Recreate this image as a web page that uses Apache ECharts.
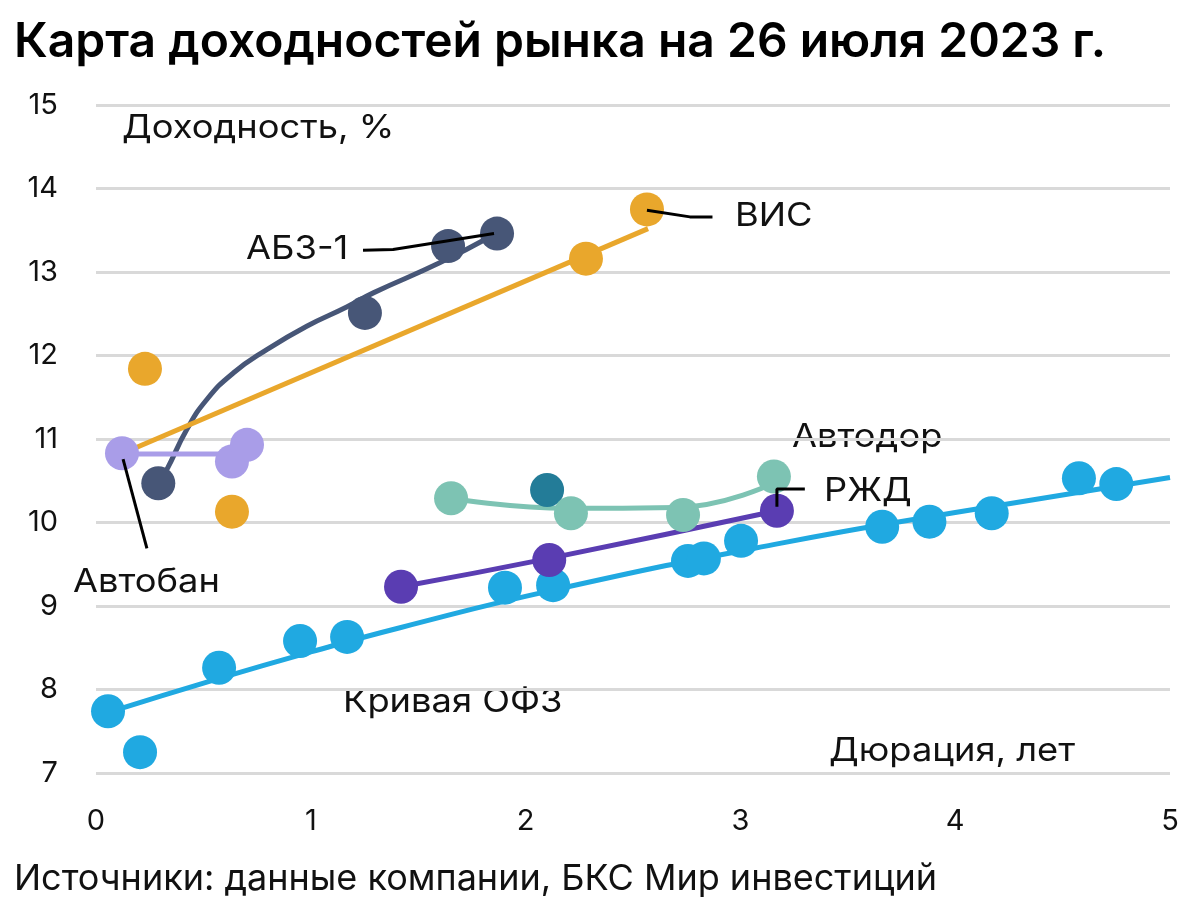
<!DOCTYPE html>
<html>
<head>
<meta charset="utf-8">
<script src="https://cdn.jsdelivr.net/npm/echarts@6/dist/echarts.min.js"></script>
<style>
html,body{margin:0;padding:0;background:#fff;}
#c{width:1200px;height:914px;}
</style>
</head>
<body>
<div id="c"></div>
<script>
// ---- data (duration, yield) ----
const ofzPoints = [[0.056,7.74],[0.205,7.25],[0.573,8.26],[0.95,8.58],[1.169,8.63],[1.904,9.22],[2.128,9.25],[2.756,9.54],[2.83,9.57],[3.003,9.78],[3.66,9.95],[3.88,10.01],[4.17,10.11],[4.576,10.53],[4.75,10.46]];
const ofzCurve = [[0.05,7.72],[0.57,8.13],[1.0,8.45],[1.415,8.74],[2.128,9.19],[3.184,9.75],[4.0,10.12],[5.0,10.54]];
const abzPoints = [[0.29,10.47],[1.252,12.51],[1.639,13.31],[1.867,13.46]];
const abzCurve = [[0.29,10.47],[0.329,10.63],[0.422,11.11],[0.515,11.47],[0.639,11.79],[0.795,12.07],[0.981,12.35],[1.167,12.58],[1.291,12.75],[1.60,13.11],[1.848,13.44]];
const visPoints = [[0.228,11.84],[0.633,10.13],[2.281,13.16],[2.565,13.75]];
const visLine = [[0.125,10.83],[2.57,13.52]];
const avtobanPoints = [[0.121,10.83],[0.633,10.73],[0.703,10.93]];
const avtobanLine = [[0.121,10.82],[0.633,10.82]];
const avtodorPoints = [[1.653,10.29],[2.211,10.11],[2.733,10.09],[3.156,10.55]];
const avtodorCurve = [[1.653,10.29],[2.20,10.17],[2.70,10.18],[3.152,10.47]];
const otherPoints = [[2.10,10.39]];
const rzdPoints = [[1.42,9.23],[2.11,9.55],[3.17,10.14]];
const rzdCurve = [[1.42,9.23],[2.11,9.57],[3.17,10.14]];
// leader lines for labels
const leaderAbz = [[1.243,13.26],[1.383,13.27],[1.853,13.46]];
const leaderVis = [[2.565,13.74],[2.765,13.66],[2.87,13.66]];
const leaderAvtoban = [[0.126,10.76],[0.237,9.69]];
const leaderRzd = [[3.17,10.19],[3.17,10.40],[3.30,10.40]];
// axes
const xTicks = [0,1,2,3,4,5];
const yTicks = [7,8,9,10,11,12,13,14,15];

const C = {
  ofz:'#20a9e1', abz:'#475677', vis:'#e9a72c', avtoban:'#a99de8',
  avtodor:'#7dc3b3', other:'#237c98', rzd:'#5a3db2'
};
const FONT = 'Inter, "Noto Sans", sans-serif';

function lineS(data, color, smooth, w, z){
  return {type:'line', data:data, smooth:smooth, showSymbol:false, symbol:'none',
    lineStyle:{color:color, width:w||5}, z:z||2, silent:true, animation:false};
}
function dots(data, color, z){
  return {type:'scatter', data:data, symbolSize:34, itemStyle:{color:color, opacity:1}, z:z||3, animation:false};
}
function label(text, left, top){
  return {type:'text', left:left, top:top, scaleX:1.1,
    style:{text:text, font:'33px '+FONT, fill:'#111'}};
}

const chart = echarts.init(document.getElementById('c'));
chart.setOption({
  animation:false,
  backgroundColor:'#fff',
  grid:{left:96, right:30, top:105, bottom:141, containLabel:false},
  xAxis:{type:'value', min:0, max:5, interval:1,
    axisLine:{show:false}, axisTick:{show:false}, splitLine:{show:false},
    axisLabel:{fontFamily:FONT, fontSize:29, color:'#111', margin:34,
      formatter:v=>xTicks.includes(v)?String(v):''}},
  yAxis:{type:'value', min:7, max:15, interval:1,
    axisLine:{show:false}, axisTick:{show:false},
    splitLine:{show:true, lineStyle:{color:'#d9d9d9', width:3}},
    axisLabel:{fontFamily:FONT, fontSize:29, color:'#111', margin:38,
      formatter:v=>yTicks.includes(v)?String(v):''}},
  series:[
    lineS(ofzCurve, C.ofz, true, 5, 2),
    lineS(abzCurve, C.abz, true, 5, 2),
    lineS(avtobanLine, C.avtoban, false, 5, 2),
    lineS(visLine, C.vis, false, 5, 2),
    lineS(avtodorCurve, C.avtodor, true, 5, 2),
    lineS(rzdCurve, C.rzd, true, 5, 2),
    dots(ofzPoints, C.ofz, 3),
    dots(otherPoints, C.other, 3),
    dots(avtodorPoints, C.avtodor, 4),
    dots(rzdPoints, C.rzd, 4),
    dots(abzPoints, C.abz, 4),
    dots(visPoints, C.vis, 4),
    dots(avtobanPoints, C.avtoban, 4),
    lineS(leaderAbz, '#000', false, 3, 6),
    lineS(leaderVis, '#000', false, 3, 6),
    lineS(leaderAvtoban, '#000', false, 3, 6),
    lineS(leaderRzd, '#000', false, 3, 6)
  ],
  graphic:[
    {type:'text', left:14, top:19, style:{text:'Карта доходностей рынка на 26 июля 2023 г.', font:'600 48px '+FONT, fill:'#000'}},
    label('Доходность, %', 122, 112),
    label('АБЗ-1', 246, 233),
    label('ВИС', 735, 200),
    label('Автобан', 73, 566),
    label('Автодор', 792, 421),
    label('РЖД', 824, 475),
    label('Кривая ОФЗ', 343, 686),
    label('Дюрация, лет', 829, 735),
    {type:'text', left:14, top:861, style:{text:'Источники: данные компании, БКС Мир инвестиций', font:'36px '+FONT, fill:'#111'}}
  ]
});
</script>
</body>
</html>
